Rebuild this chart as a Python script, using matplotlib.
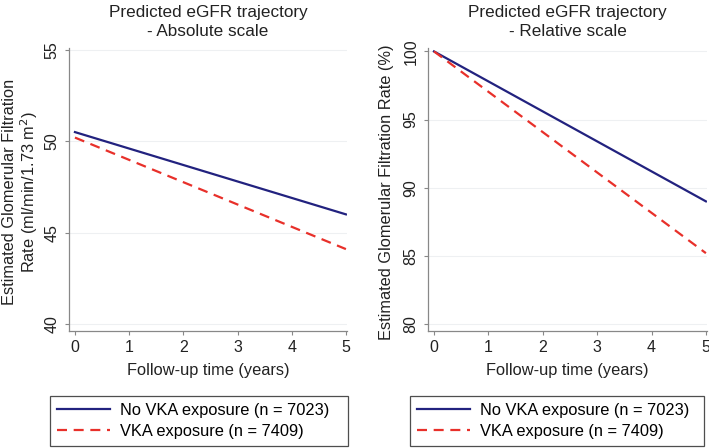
import matplotlib
matplotlib.use("Agg")
import matplotlib.pyplot as plt

plt.rcParams['font.family'] = ['Liberation Sans', 'DejaVu Sans']

years = [0, 5]
abs_no_vka = [50.5, 46.0]
abs_vka = [50.2, 44.1]
rel_no_vka = [100.0, 89.0]
rel_vka = [100.0, 85.2]
x_ticks = [0, 1, 2, 3, 4, 5]
abs_yticks = [40, 45, 50, 55]
rel_yticks = [80, 85, 90, 95, 100]
labels = ["No VKA exposure (n = 7023)", "VKA exposure (n = 7409)"]
titles = ["Predicted eGFR trajectory\n- Absolute scale", "Predicted eGFR trajectory\n- Relative scale"]
ylabels = ["Estimated Glomerular Filtration\nRate (ml/min/1.73 m$^2$)", "Estimated Glomerular Filtration Rate (%)"]

navy = "#22227f"
red = "#e8302a"

W, H = 709, 448
fig = plt.figure(figsize=(W / 100, H / 100), dpi=100)

def make_ax(l, r, t, b):
    return fig.add_axes([l / W, 1 - b / H, (r - l) / W, (b - t) / H])

ax1 = make_ax(69, 347, 48, 331)
ax2 = make_ax(428, 707, 48, 331)

def style(ax, yticks, ylim, title, ylabel, lab_size):
    ax.set_xlim(-0.11, 5.02)
    ax.set_ylim(*ylim)
    ax.set_xticks(x_ticks)
    ax.set_yticks(yticks)
    for s in ['top', 'right']:
        ax.spines[s].set_visible(False)
    for s in ['left', 'bottom']:
        ax.spines[s].set_color('#888888')
        ax.spines[s].set_linewidth(0.9)
    ax.tick_params(axis='both', colors='#888888', labelcolor='#222222', labelsize=11.5, length=3, width=0.8)
    ax.tick_params(axis='y', pad=4)
    for lab in ax.get_yticklabels():
        lab.set_rotation(90)
        lab.set_va('center')
    ax.grid(axis='y', color='#eef0f2', linewidth=0.8)
    ax.set_axisbelow(True)
    ax.set_title(title, fontsize=12.3, color='#222222', pad=9, linespacing=1.3)
    ax.set_xlabel("Follow-up time (years)", fontsize=11.8, color='#222222', labelpad=6)
    ax.set_ylabel(ylabel, fontsize=lab_size, color='#222222', linespacing=1.1, va='center')

ax1.plot(years, abs_no_vka, color=navy, lw=1.6, label=labels[0])
ax1.plot(years, abs_vka, color=red, lw=1.6, ls=(0, (4.5, 3)), label=labels[1])
style(ax1, abs_yticks, (39.62, 55.1), titles[0], ylabels[0], 11.8)
ax1.yaxis.set_label_coords(-48 / 278, 0.49)

ax2.plot(years, rel_no_vka, color=navy, lw=1.6, label=labels[0])
ax2.plot(years, rel_vka, color=red, lw=1.6, ls=(0, (4.5, 3)), label=labels[1])
style(ax2, rel_yticks, (79.49, 100.25), titles[1], ylabels[1], 11.8)
ax2.yaxis.set_label_coords(-41 / 279, 0.49)

for ax, (l, r) in [(ax1, (51, 349)), (ax2, (411, 705))]:
    leg = ax.legend(loc='lower left', bbox_to_anchor=((l - 1) / W, 1 - 446 / H, (r - l) / W, 53 / H),
                    bbox_transform=fig.transFigure, mode='expand', fontsize=11.8,
                    frameon=True, fancybox=False, borderaxespad=0, handlelength=3.2,
                    labelspacing=0.35, borderpad=0.45, handletextpad=0.6)
    leg.get_frame().set_edgecolor('#222222')
    leg.get_frame().set_linewidth(0.9)

fig.savefig("out.png", dpi=100)
